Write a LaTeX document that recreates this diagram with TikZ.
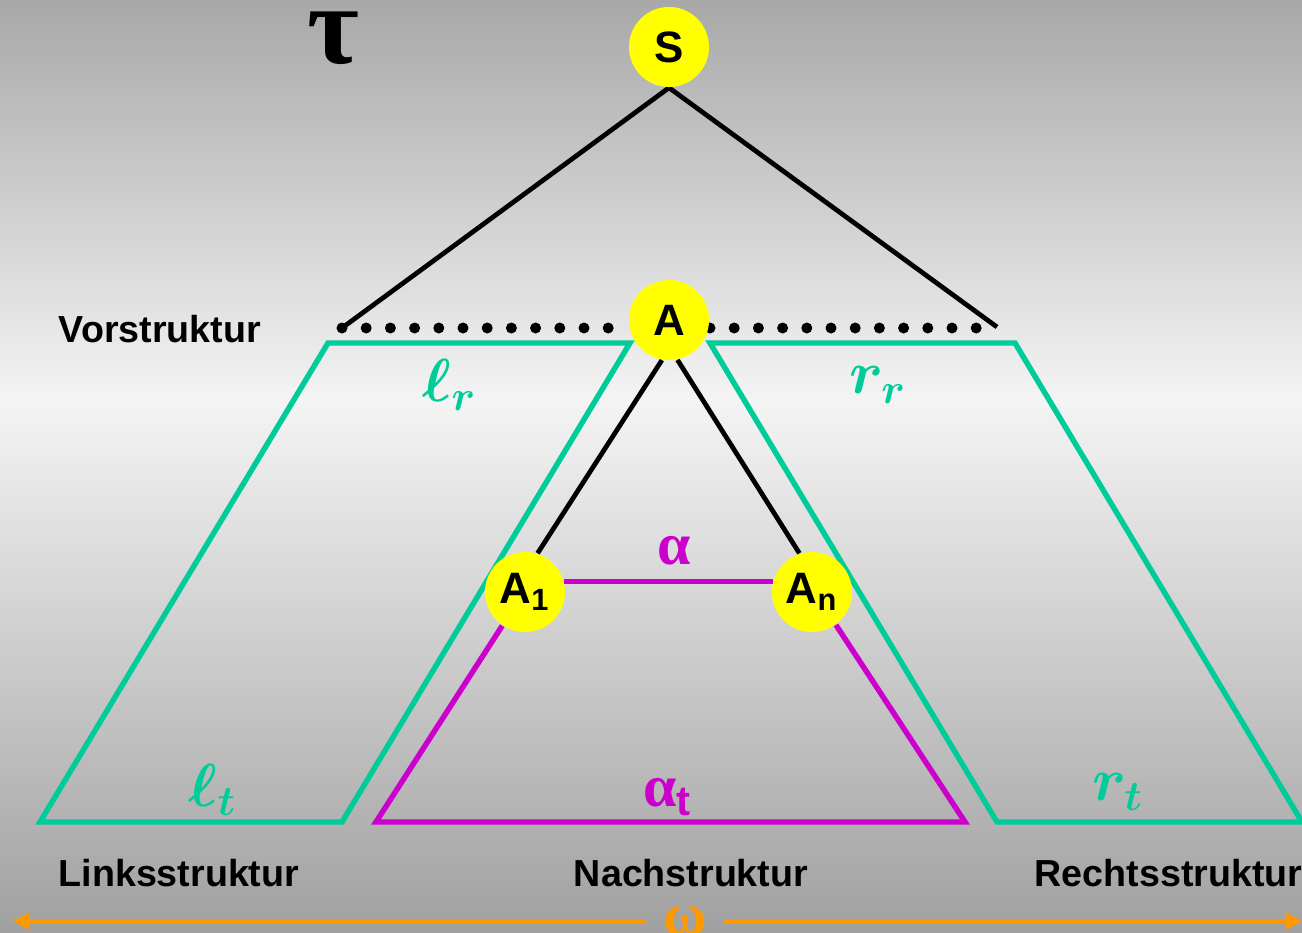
\documentclass[tikz,border=0pt]{standalone}
\usepackage{amsmath}
\usepackage{fontspec}
\setmainfont{Liberation Sans}
\newfontfamily\greekserif{Liberation Serif}
\usepackage{bm}
\usetikzlibrary{arrows.meta,backgrounds}

\definecolor{bgtop}{HTML}{A8A8A8}
\definecolor{bgmid}{HTML}{F4F4F4}
\definecolor{bgbot}{HTML}{A0A0A0}
\definecolor{strucgreen}{HTML}{00CC99}
\definecolor{nachmagenta}{HTML}{CC00CC}
\definecolor{knotyellow}{HTML}{FFFF00}
\definecolor{wordorange}{HTML}{FF9900}

\begin{document}
\begin{tikzpicture}[
        x=0.01cm, y=-0.01cm,
        knot/.style={circle, fill=knotyellow, minimum size=0.8cm, inner sep=0pt, font=\fontsize{12.5}{14}\selectfont\bfseries},
        struc/.style={inner sep=0pt, font=\fontsize{10.7}{13}\selectfont\bfseries},
        edge/.style={line width=1.35pt, black},
        greenline/.style={line width=1.55pt, strucgreen},
        pinkline/.style={line width=1.55pt, nachmagenta},
        glabel/.style={text=strucgreen, font=\fontsize{17.28}{20}\selectfont},
        plabel/.style={text=nachmagenta, font=\fontsize{17}{19}\selectfont\greekserif\bfseries},
        warrow/.style={-{Triangle[length=1.6mm, width=1.6mm]}, line width=1pt, wordorange}
    ]
        \useasboundingbox (0,0) rectangle (1302,933);

        % Knots
        \node[knot] (S) at (669,47) {S};
        \node[knot] (A) at (669,320) {A};
        \node[knot] (A1) at (525,592) {A\textsubscript{1}};
        \node[knot] (An) at (812,592) {A\textsubscript{n}};

        \begin{scope}[on background layer]
        % Background
        \shade[top color=bgtop, bottom color=bgmid] (0,0) rectangle (1302,401);
        \shade[top color=bgmid, bottom color=bgbot] (0,400) rectangle (1302,933);

        % Links- and Rechtsstruktur
        \draw[greenline] (40,822) -- (328,343) -- (630,343) -- (342,822) -- cycle;
        \draw[greenline] (710,343) -- (1015,343) -- (1302,822) -- (997,822) -- cycle;

        % Vorstruktur
        \coordinate (vl) at (342,328);
        \coordinate (vr) at (997,327);
        \draw[edge] (S.south) -- (vl);
        \draw[edge] (S.south) -- (vr);
        \foreach \i in {0,...,11} {
            \fill (342+24.2*\i,328) circle (0.055cm);
            \fill (710+24.2*\i,328) circle (0.055cm);
        }

        % Nachstruktur
        \coordinate (al) at (376,822);
        \coordinate (ar) at (965,822);
        \draw[edge] (A.-100) -- (A1.72);
        \draw[edge] (A.-78) -- (An.108);
        \draw[pinkline] (A1.15) -- (An.165);
        \draw[pinkline] (A1.236) -- (al) -- (ar) -- (An.-54);
        \end{scope}

        % Labels
        \node (tau) at (333,38) {\fontsize{32}{36}\selectfont\greekserif\bfseries τ};
        \node[glabel] (lr) at (450,385) {$\bm{\ell_r}$};
        \node[glabel] (rr) at (878,385) {$\bm{r_r}$};
        \node[glabel] (lt) at (213,790) {$\bm{\ell_t}$};
        \node[glabel] (rt) at (1118,792) {$\bm{r_t}$};
        \node[plabel] (alpha) at (674,551) {α};
        \node[plabel] (alphat) at (668,797) {α\textsubscript{\fontspec{Liberation Sans}\bfseries t}};

        \node[anchor=west, struc] (vor) at (58,329) {Vorstruktur};
        \node[anchor=west, struc] (links) at (58,873) {Linksstruktur};
        \node[struc] (nach) at (691,873) {Nachstruktur};
        \node[anchor=west, struc] (rechts) at (1034,873) {Rechtsstruktur};

        % Wort
        \node[text=wordorange, font=\fontsize{17}{19}\selectfont\greekserif\bfseries, minimum width=0.77cm, inner sep=0pt] (omega) at (685,921) {ω};
        \coordinate (wl) at (13,921);
        \coordinate (wr) at (1302,921);
        \draw[warrow] (omega.west) -- (wl);
        \draw[warrow] (omega.east) -- (wr);
    \end{tikzpicture}
\end{document}
